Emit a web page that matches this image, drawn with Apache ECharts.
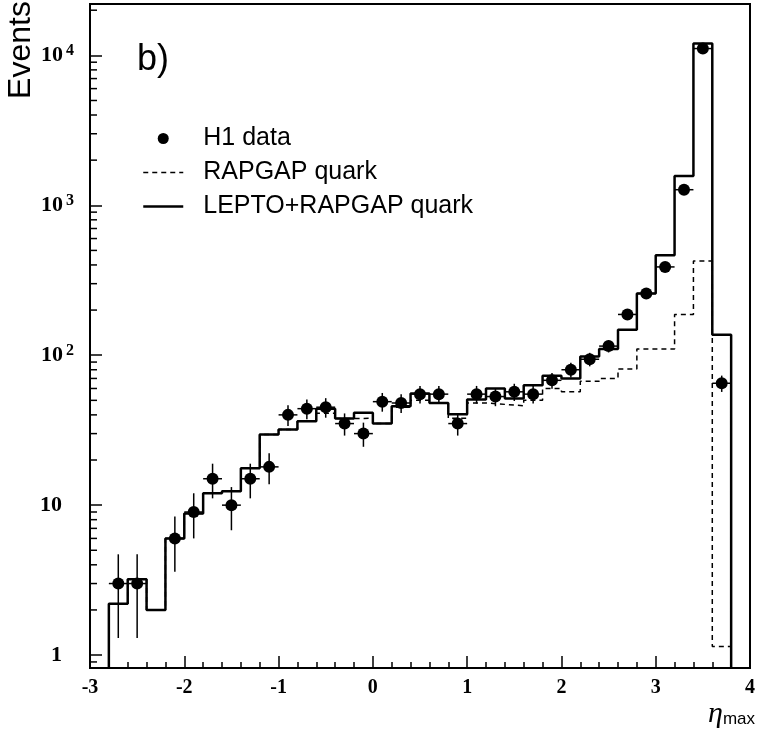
<!DOCTYPE html>
<html>
<head>
<meta charset="utf-8">
<script src="https://cdn.jsdelivr.net/npm/echarts@6/dist/echarts.min.js"></script>
<style>
  html, body { margin: 0; padding: 0; background: #fff; }
  #chart { width: 758px; height: 729px; }
</style>
</head>
<body>
<div id="chart"></div>
<script>
// eta_max bins, 0.2 wide
const binEdges = [-2.8, -2.6, -2.4, -2.2, -2.0, -1.8, -1.6, -1.4, -1.2, -1.0, -0.8, -0.6, -0.4, -0.2, 0.0,
  0.2, 0.4, 0.6, 0.8, 1.0, 1.2, 1.4, 1.6, 1.8, 2.0, 2.2, 2.4, 2.6, 2.8, 3.0, 3.2, 3.4, 3.6, 3.8];
const binCentres = [-2.7, -2.5, -2.3, -2.1, -1.9, -1.7, -1.5, -1.3, -1.1, -0.9, -0.7, -0.5, -0.3, -0.1,
  0.1, 0.3, 0.5, 0.7, 0.9, 1.1, 1.3, 1.5, 1.7, 1.9, 2.1, 2.3, 2.5, 2.7, 2.9, 3.1, 3.3, 3.5, 3.7];

// H1 data points and their errors
const h1Data = [3, 3, null, 6, 9, 15, 10, 15, 18, 40, 44, 45, 35, 30, 49, 48, 55, 55, 35, 55, 53, 57, 55,
  68, 80, 94, 115, 187, 258, 388, 1270, 11100, 65];
const h1Err = [1.7, 1.7, null, 2.4, 3, 3.9, 3.2, 3.9, 4.2, 6.3, 6.6, 6.7, 5.9, 5.5, 7, 6.9, 7.4, 7.4, 5.9,
  7.4, 7.3, 7.5, 7.4, 8.2, 8.9, 9.7, 10.7, 13.7, 16.1, 19.7, 35.6, 105, 8.1];

// MC histograms, one value per bin
const leptoRapgap = [2.2, 3.2, 2.0, 6.0, 8.8, 12, 12.4, 17.6, 29.6, 32, 36.3, 44, 37.8, 41.3, 35, 45.7,
  55.5, 48, 40.4, 50.7, 60, 51.5, 63, 73, 70, 98, 110, 148, 258, 464, 1570, 12000, 137];
const rapgapQuark = [2.2, 3.2, 2.0, 6.0, 8.8, 12, 12.4, 17.6, 29.6, 32, 36.3, 41, 37.8, 38, 35, 45,
  50, 48, 38, 48, 47, 46, 50, 60, 57, 67, 70, 81, 110, 110, 187, 425, 1.14];

const yMinorTicks = [0.9, 2, 3, 4, 5, 6, 7, 8, 9, 20, 30, 40, 50, 60, 70, 80, 90,
  200, 300, 400, 500, 600, 700, 800, 900, 2000, 3000, 4000, 5000, 6000, 7000, 8000, 9000, 20000];

const xMin = -3, xMax = 4;
const yMin = 0.82, yMax = 22000;
const halfBin = 0.1;

// turn bin values into a closed step outline
function histLine(vals) {
  const last = binEdges.length - 1;
  const pts = [[binEdges[0], yMin]];
  vals.forEach((v, i) => pts.push([binEdges[i], v]));
  pts.push([binEdges[last], vals[vals.length - 1]]);
  pts.push([binEdges[last], yMin]);
  return pts;
}

const points = [];
const errBars = [];
binCentres.forEach((x, i) => {
  if (h1Data[i] == null) return;
  points.push([x, h1Data[i]]);
  errBars.push([x, h1Data[i], h1Data[i] - h1Err[i], h1Data[i] + h1Err[i]]);
});

const chart = echarts.init(document.getElementById('chart'), null, { renderer: 'canvas' });

const option = {
  animation: false,
  backgroundColor: '#fff',
  grid: {
    left: 90, right: 4, top: 4, bottom: 61,
    show: true, borderColor: '#000', borderWidth: 2, backgroundColor: 'transparent'
  },
  legend: {
    orient: 'vertical',
    left: 137, top: 121,
    itemWidth: 40, itemHeight: 11, itemGap: 9,
    selectedMode: false,
    textStyle: { fontFamily: 'Liberation Sans', fontSize: 25, color: '#000', padding: [0, 0, 0, 15] },
    data: [
      { name: 'H1 data' },
      { name: 'RAPGAP quark', itemStyle: { opacity: 0 }, lineStyle: { width: 1.5 } },
      { name: 'LEPTO+RAPGAP quark', itemStyle: { opacity: 0 }, lineStyle: { width: 2.5 } }
    ]
  },
  xAxis: {
    type: 'value', min: xMin, max: xMax, interval: 1,
    axisLine: { onZero: false, lineStyle: { color: '#000', width: 2 } },
    axisTick: { inside: true, length: 12, lineStyle: { color: '#000', width: 1.5 } },
    minorTick: { show: true, splitNumber: 5, length: 6, lineStyle: { color: '#000', width: 1.5 } },
    splitLine: { show: false },
    axisLabel: {
      margin: 10, color: '#000', fontFamily: 'Liberation Serif', fontWeight: 'bold', fontSize: 20
    }
  },
  yAxis: {
    type: 'log', logBase: 10, min: yMin, max: yMax,
    axisLine: { onZero: false, lineStyle: { color: '#000', width: 2 } },
    axisTick: { inside: true, length: 12, lineStyle: { color: '#000', width: 1.5 } },
    splitLine: { show: false },
    axisLabel: {
      margin: 16, showMinLabel: false, showMaxLabel: false,
      formatter: function (v) {
        const e = Math.round(Math.log10(v));
        if (e === 0) return '{b|1}{s|}';
        if (e === 1) return '{b|10}{s|}';
        return '{b|10}{e|' + e + '}';
      },
      rich: {
        b: { fontFamily: 'Liberation Serif', fontWeight: 'bold', fontSize: 22, color: '#000' },
        e: { fontFamily: 'Liberation Serif', fontWeight: 'bold', fontSize: 16, color: '#000', padding: [0, 0, 8, 3] },
        s: { width: 12 }
      }
    }
  },
  series: [
    {
      name: 'RAPGAP quark', type: 'line', step: 'end', symbol: 'none', z: 2,
      data: histLine(rapgapQuark),
      lineStyle: { color: '#000', width: 1.5, type: [5, 4] },
      itemStyle: { color: '#000' }
    },
    {
      name: 'LEPTO+RAPGAP quark', type: 'line', step: 'end', symbol: 'none', z: 3,
      data: histLine(leptoRapgap),
      lineStyle: { color: '#000', width: 2.5 },
      itemStyle: { color: '#000' }
    },
    {
      name: 'err', type: 'custom', z: 4,
      data: errBars,
      encode: { x: 0, y: [1, 2, 3] },
      renderItem: function (params, api) {
        const x = api.value(0), y = api.value(1);
        const lo = api.coord([x, api.value(2)]);
        const hi = api.coord([x, api.value(3)]);
        const l = api.coord([x - halfBin, y]);
        const r = api.coord([x + halfBin, y]);
        const st = { stroke: '#000', lineWidth: 1.5 };
        return {
          type: 'group',
          children: [
            { type: 'line', shape: { x1: lo[0], y1: lo[1], x2: hi[0], y2: hi[1] }, style: st },
            { type: 'line', shape: { x1: l[0], y1: l[1], x2: r[0], y2: r[1] }, style: st }
          ]
        };
      }
    },
    {
      name: 'H1 data', type: 'scatter', z: 5,
      data: points, symbol: 'circle', symbolSize: 12,
      itemStyle: { color: '#000', opacity: 1 }
    },
    {
      name: 'minor', type: 'custom', z: 6, silent: true,
      data: yMinorTicks.map(v => [xMin, v]),
      renderItem: function (params, api) {
        const p = api.coord([api.value(0), api.value(1)]);
        return {
          type: 'line',
          shape: { x1: p[0], y1: p[1], x2: p[0] + 7, y2: p[1] },
          style: { stroke: '#000', lineWidth: 1.5 }
        };
      }
    }
  ],
  graphic: [
    {
      type: 'text', x: 21, y: 50, rotation: Math.PI / 2,
      style: { text: 'Events', fontFamily: 'Liberation Sans', fontSize: 32, fill: '#000',
        textAlign: 'center', textVerticalAlign: 'middle' }
    },
    {
      type: 'text', x: 137, y: 60,
      style: { text: 'b)', fontFamily: 'Liberation Sans', fontSize: 36, fill: '#000',
        textAlign: 'left', textVerticalAlign: 'middle' }
    },
    {
      type: 'text', x: 755, y: 714,
      style: {
        text: '{g|η}{m|max}', textAlign: 'right', textVerticalAlign: 'middle',
        rich: {
          g: { fontFamily: 'Liberation Serif', fontStyle: 'italic', fontSize: 30, fill: '#000' },
          m: { fontFamily: 'Liberation Sans', fontSize: 17, fill: '#000', padding: [10, 0, 0, 0] }
        }
      }
    }
  ]
};

chart.setOption(option);
</script>
</body>
</html>
